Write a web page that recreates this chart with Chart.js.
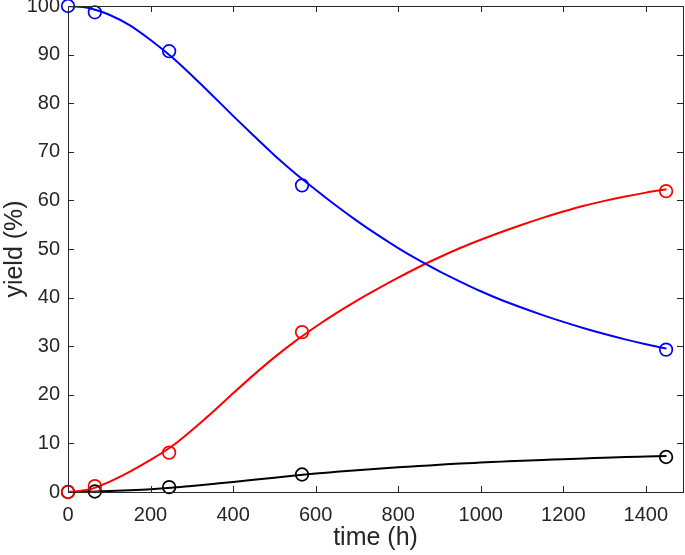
<!DOCTYPE html>
<html>
<head>
<meta charset="utf-8">
<script src="https://cdn.jsdelivr.net/npm/chart.js@4/dist/chart.umd.min.js"></script>
<style>
  html, body { margin: 0; padding: 0; background: #fff; }
  #wrap { width: 685px; height: 555px; }
</style>
</head>
<body>
<div id="wrap"><canvas id="myChart" width="685" height="555"></canvas></div>
<script>
// measured points
var sampleT = [0, 65, 245, 567, 1449];
var bluePts = [100, 98.7, 90.7, 63.1, 29.3];
var redPts = [0, 1.2, 8.1, 32.9, 61.9];
var blackPts = [0, 0.1, 1.0, 3.6, 7.2];

// fitted curves, every 50 h
var curveT = [0, 50, 100, 150, 200, 250, 300, 350, 400, 450, 500, 550, 600, 650, 700, 750,
  800, 850, 900, 950, 1000, 1050, 1100, 1150, 1200, 1250, 1300, 1350, 1400, 1450];
var blueFit = [100, 99.6, 98.2, 96.0, 93.0, 89.6, 85.7, 81.6, 77.4, 73.3, 69.3, 65.6, 62.2, 58.9, 55.8, 52.9,
  50.2, 47.7, 45.4, 43.3, 41.3, 39.5, 37.9, 36.4, 35.0, 33.7, 32.5, 31.4, 30.4, 29.5];
var redFit = [0, 0.5, 2.1, 4.2, 6.6, 9.3, 12.7, 16.4, 20.3, 24.1, 27.7, 31.0, 34.0, 36.8, 39.4, 41.8,
  44.1, 46.3, 48.3, 50.2, 51.9, 53.5, 55.0, 56.4, 57.7, 58.9, 59.9, 60.8, 61.6, 62.3];
var blackFit = [0, 0.05, 0.2, 0.35, 0.55, 0.85, 1.25, 1.65, 2.05, 2.5, 2.95, 3.4, 3.8, 4.15, 4.5, 4.8,
  5.1, 5.35, 5.6, 5.85, 6.05, 6.25, 6.45, 6.6, 6.75, 6.9, 7.05, 7.2, 7.3, 7.4];

var xTicks = [0, 200, 400, 600, 800, 1000, 1200, 1400];
var yTicks = [0, 10, 20, 30, 40, 50, 60, 70, 80, 90, 100];

var axisColor = '#262626';
var fontFamily = '"Liberation Sans", Arial, sans-serif';

function toXY(xs, ys) {
  var out = [];
  for (var i = 0; i < xs.length; i++) out.push({ x: xs[i], y: ys[i] });
  return out;
}

function fitSet(ys, color) {
  return {
    type: 'line',
    data: toXY(curveT, ys),
    borderColor: color,
    borderWidth: 2,
    pointRadius: 0,
    cubicInterpolationMode: 'monotone',
    fill: false,
    order: 2
  };
}

function ptSet(ys, color) {
  return {
    type: 'scatter',
    data: toXY(sampleT, ys),
    borderColor: color,
    backgroundColor: 'rgba(0,0,0,0)',
    borderWidth: 1.7,
    pointRadius: 6.3,
    pointStyle: 'circle',
    clip: false,
    order: 1
  };
}

function noPad(s) {
  s.paddingTop = 0; s.paddingBottom = 0; s.paddingLeft = 0; s.paddingRight = 0;
}

// box and inward tick marks like the original figure
var boxTicks = {
  id: 'boxTicks',
  afterDraw: function(chart) {
    var ctx = chart.ctx;
    var a = chart.chartArea;
    var xs = chart.scales.x, ys = chart.scales.y;
    var len = 6;
    ctx.save();
    ctx.strokeStyle = axisColor;
    ctx.lineWidth = 1;
    ctx.beginPath();
    xTicks.forEach(function(v) {
      var px = Math.round(xs.getPixelForValue(v)) + 0.5;
      ctx.moveTo(px, a.bottom); ctx.lineTo(px, a.bottom - len);
      ctx.moveTo(px, a.top); ctx.lineTo(px, a.top + len);
    });
    yTicks.forEach(function(v) {
      var py = Math.round(ys.getPixelForValue(v)) + 0.5;
      ctx.moveTo(a.left, py); ctx.lineTo(a.left + len, py);
      ctx.moveTo(a.right, py); ctx.lineTo(a.right - len, py);
    });
    ctx.stroke();
    ctx.strokeRect(Math.round(a.left) + 0.5, Math.round(a.top) + 0.5,
      Math.round(a.right - a.left), Math.round(a.bottom - a.top));
    ctx.restore();
  }
};

var ctx = document.getElementById('myChart').getContext('2d');
var myChart = new Chart(ctx, {
  data: {
    datasets: [
      ptSet(bluePts, '#0000ff'),
      ptSet(redPts, '#ff0000'),
      ptSet(blackPts, '#000000'),
      fitSet(blueFit, '#0000ff'),
      fitSet(redFit, '#ff0000'),
      fitSet(blackFit, '#000000')
    ]
  },
  options: {
    responsive: false,
    animation: false,
    layout: { autoPadding: false, padding: { top: 6, right: 2, left: 0, bottom: 0 } },
    plugins: {
      legend: { display: false },
      tooltip: { enabled: false }
    },
    scales: {
      x: {
        type: 'linear',
        min: 0,
        max: 1490,
        afterBuildTicks: function(s) { s.ticks = xTicks.map(function(v) { return { value: v }; }); },
        afterFit: function(s) { s.height = 63; noPad(s); },
        grid: { display: false, drawTicks: false },
        border: { display: false },
        ticks: {
          color: axisColor, padding: 11, maxRotation: 0,
          font: { family: fontFamily, size: 20 },
          callback: function(v) { return String(v); }
        },
        title: {
          display: true,
          text: 'time (h)',
          color: axisColor,
          padding: { top: 0, bottom: 2 },
          font: { family: fontFamily, size: 25 }
        }
      },
      y: {
        type: 'linear',
        min: 0,
        max: 100,
        afterBuildTicks: function(s) { s.ticks = yTicks.map(function(v) { return { value: v }; }); },
        afterFit: function(s) { s.width = 68; noPad(s); },
        grid: { display: false, drawTicks: false },
        border: { display: false },
        ticks: {
          color: axisColor, padding: 8,
          font: { family: fontFamily, size: 20 },
          callback: function(v) { return String(v); }
        },
        title: {
          display: true,
          text: 'yield (%)',
          color: axisColor,
          padding: { top: 0, bottom: 0 },
          font: { family: fontFamily, size: 25 }
        }
      }
    }
  },
  plugins: [boxTicks]
});
</script>
</body>
</html>
